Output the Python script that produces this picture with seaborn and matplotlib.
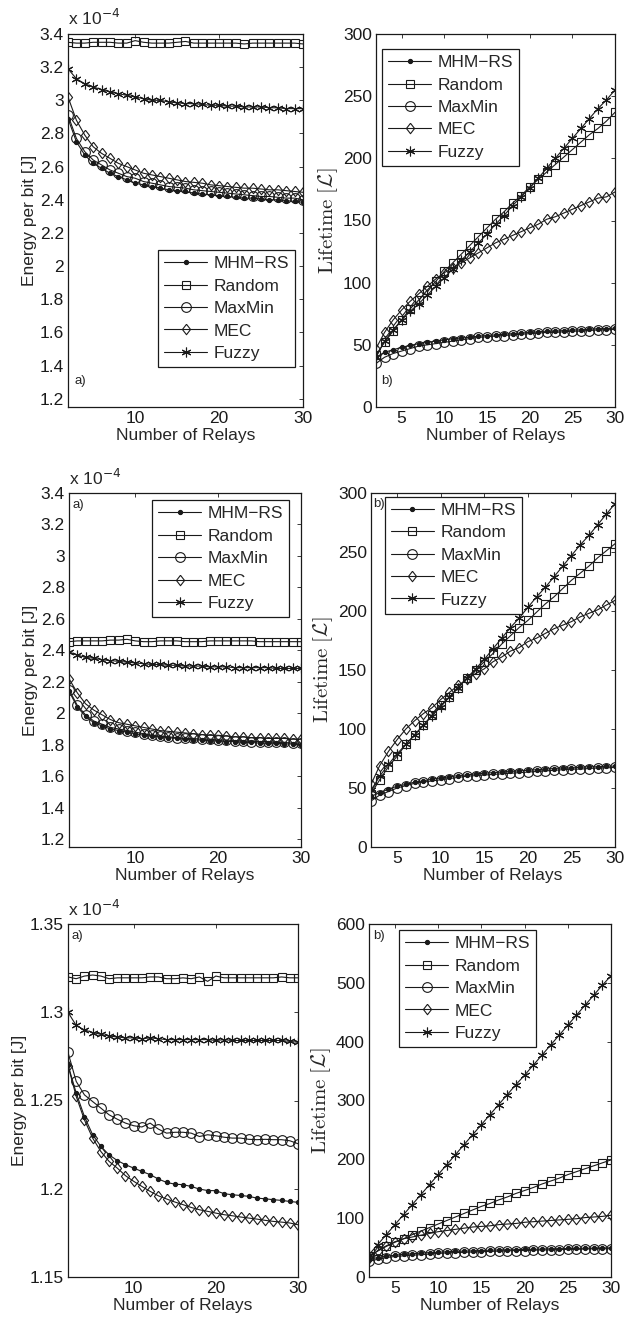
import numpy as np
import matplotlib
matplotlib.use('Agg')
import matplotlib.pyplot as plt
import seaborn as sns
from matplotlib.ticker import FuncFormatter

sns.set_theme(style='white')
plt.rcParams['font.family'] = ['Liberation Sans', 'DejaVu Sans']
plt.rcParams['mathtext.fontset'] = 'cm'

relays = list(range(2, 31))
methods = ['MHM\u2212RS', 'Random', 'MaxMin', 'MEC', 'Fuzzy']

# energy per bit (x 1e-4 J), scenario 1
e1_mhm = [2.89, 2.75, 2.67, 2.62, 2.59, 2.56, 2.54, 2.52, 2.50, 2.49, 2.48, 2.47, 2.46, 2.455, 2.45,
          2.44, 2.435, 2.43, 2.425, 2.42, 2.415, 2.41, 2.41, 2.405, 2.40, 2.40, 2.395, 2.39, 2.385]
e1_random = [3.35, 3.345, 3.345, 3.35, 3.35, 3.35, 3.345, 3.345, 3.36, 3.35, 3.345, 3.345, 3.345, 3.35, 3.355,
             3.345, 3.345, 3.345, 3.345, 3.345, 3.345, 3.34, 3.345, 3.345, 3.345, 3.345, 3.345, 3.345, 3.34]
e1_maxmin = [2.91, 2.77, 2.69, 2.64, 2.61, 2.58, 2.56, 2.54, 2.53, 2.51, 2.50, 2.49, 2.48, 2.475, 2.47,
             2.46, 2.455, 2.45, 2.445, 2.44, 2.435, 2.43, 2.425, 2.42, 2.42, 2.415, 2.41, 2.41, 2.40]
e1_mec = [3.02, 2.88, 2.79, 2.72, 2.68, 2.65, 2.62, 2.60, 2.58, 2.56, 2.55, 2.54, 2.53, 2.52, 2.51,
          2.505, 2.50, 2.49, 2.485, 2.48, 2.475, 2.47, 2.47, 2.465, 2.46, 2.46, 2.455, 2.45, 2.445]
e1_fuzzy = [3.19, 3.13, 3.10, 3.08, 3.065, 3.05, 3.04, 3.03, 3.02, 3.01, 3.00, 3.00, 2.99, 2.985, 2.98,
            2.98, 2.975, 2.97, 2.97, 2.965, 2.965, 2.96, 2.96, 2.96, 2.955, 2.955, 2.95, 2.95, 2.95]

# lifetime, scenario 1
l1_mhm = [40, 44, 46, 48, 49.5, 51, 52, 53, 54, 55, 55.5, 56, 57, 57.5, 58,
          58.5, 59, 59.5, 60, 60.5, 61, 61, 61.5, 62, 62, 62.5, 63, 63, 63.5]
l1_random = [42, 52, 61, 70, 79, 86, 94, 101, 109, 116, 123, 130, 137, 144, 151,
             157, 164, 170, 177, 183, 189, 195, 201, 207, 213, 219, 224, 230, 237]
l1_maxmin = [35, 40, 43, 45, 47, 49, 50, 51, 52, 53, 54, 55, 56, 56.5, 57,
             57.5, 58, 58.5, 59, 59.5, 60, 60, 60.5, 61, 61, 61.5, 62, 62, 62.5]
l1_mec = [47, 60, 70, 78, 85, 91, 97, 103, 108, 112, 116, 120, 124, 128, 132,
          135, 138, 141, 144, 147, 151, 153, 156, 159, 162, 165, 168, 169, 173]
l1_fuzzy = [40, 53, 62, 70, 77, 83, 90, 97, 104, 111, 118, 125, 132, 139, 147,
            154, 162, 169, 176, 184, 192, 200, 208, 216, 224, 232, 240, 247, 255]

# energy per bit, scenario 2
e2_mhm = [2.14, 2.04, 1.98, 1.94, 1.92, 1.90, 1.89, 1.88, 1.87, 1.86, 1.855, 1.85, 1.845, 1.84, 1.835,
          1.83, 1.83, 1.825, 1.825, 1.82, 1.82, 1.815, 1.815, 1.81, 1.81, 1.81, 1.805, 1.805, 1.80]
e2_random = [2.455, 2.46, 2.46, 2.46, 2.46, 2.465, 2.465, 2.47, 2.46, 2.455, 2.455, 2.46, 2.46, 2.46, 2.455,
             2.455, 2.455, 2.46, 2.46, 2.46, 2.46, 2.46, 2.46, 2.455, 2.455, 2.455, 2.455, 2.455, 2.455]
e2_maxmin = [2.15, 2.05, 1.99, 1.95, 1.93, 1.91, 1.90, 1.89, 1.88, 1.87, 1.86, 1.855, 1.85, 1.845, 1.84,
             1.84, 1.835, 1.835, 1.83, 1.83, 1.825, 1.825, 1.82, 1.82, 1.82, 1.815, 1.815, 1.81, 1.81]
e2_mec = [2.22, 2.13, 2.06, 2.02, 1.99, 1.96, 1.94, 1.93, 1.92, 1.91, 1.90, 1.89, 1.885, 1.88, 1.875,
          1.87, 1.865, 1.86, 1.86, 1.855, 1.85, 1.85, 1.845, 1.845, 1.84, 1.84, 1.84, 1.835, 1.835]
e2_fuzzy = [2.39, 2.37, 2.355, 2.35, 2.34, 2.335, 2.33, 2.325, 2.32, 2.315, 2.31, 2.31, 2.305, 2.305, 2.30,
            2.30, 2.30, 2.295, 2.295, 2.295, 2.29, 2.29, 2.29, 2.29, 2.29, 2.285, 2.285, 2.285, 2.285]

# lifetime, scenario 2
l2_mhm = [43, 46, 49, 51.5, 53, 55, 56, 57.5, 58.5, 59.5, 60.5, 61, 62, 62.5, 63,
          63.5, 64, 64.5, 65, 65.5, 66, 66.5, 67, 67, 67.5, 68, 68, 68.5, 68.5]
l2_random = [45, 57, 68, 77, 87, 95, 103, 112, 120, 127, 135, 143, 150, 157, 164,
             172, 179, 186, 192, 199, 206, 212, 219, 226, 232, 238, 245, 251, 257]
l2_maxmin = [39, 44, 47, 50, 52, 54, 55, 56, 57, 58, 59, 60, 60.5, 61, 61.5,
             62, 62.5, 63, 63.5, 64, 64.5, 65, 65.5, 66, 66, 66.5, 67, 67, 67.5]
l2_mec = [53, 69, 81, 91, 100, 107, 113, 118, 125, 131, 137, 142, 147, 151, 157,
          161, 166, 169, 174, 177, 181, 185, 188, 191, 195, 198, 201, 205, 209]
l2_fuzzy = [48, 60, 70, 79, 87, 95, 103, 111, 119, 127, 135, 143, 151, 159, 168,
            177, 186, 194, 203, 212, 220, 229, 238, 247, 256, 264, 273, 282, 291]

# energy per bit, scenario 3
e3_mhm = [1.2702, 1.2542, 1.2409, 1.2306, 1.2240, 1.2192, 1.2160, 1.2136, 1.2117, 1.2098, 1.2080, 1.2055,
          1.2036, 1.2026, 1.2023, 1.2013, 1.1998, 1.1990, 1.1989, 1.1972, 1.1966, 1.1962, 1.1957, 1.1947,
          1.1943, 1.1938, 1.1934, 1.1928, 1.1923]
e3_random = [1.3200, 1.3190, 1.3205, 1.3211, 1.3205, 1.3190, 1.3195, 1.3195, 1.3195, 1.3195, 1.3200, 1.3200,
             1.3190, 1.3190, 1.3195, 1.3190, 1.3200, 1.3175, 1.3205, 1.3195, 1.3195, 1.3195, 1.3195, 1.3195,
             1.3195, 1.3195, 1.3200, 1.3195, 1.3195]
e3_maxmin = [1.2772, 1.2608, 1.2532, 1.2494, 1.2457, 1.2419, 1.2394, 1.2372, 1.2357, 1.2350, 1.2372, 1.2338,
             1.2315, 1.2320, 1.2320, 1.2315, 1.2296, 1.2306, 1.2300, 1.2292, 1.2287, 1.2287, 1.2280, 1.2278,
             1.2280, 1.2278, 1.2278, 1.2272, 1.2255]
e3_mec = [1.2698, 1.2523, 1.2390, 1.2287, 1.2211, 1.2155, 1.2117, 1.2074, 1.2042, 1.2013, 1.1985, 1.1960,
          1.1942, 1.1925, 1.1910, 1.1894, 1.1881, 1.1872, 1.1862, 1.1853, 1.1847, 1.1840, 1.1834, 1.1828,
          1.1821, 1.1815, 1.1811, 1.1806, 1.1796]
e3_fuzzy = [1.3000, 1.2925, 1.2900, 1.2885, 1.2875, 1.2865, 1.2860, 1.2855, 1.2855, 1.2850, 1.2855, 1.2850,
            1.2845, 1.2845, 1.2845, 1.2845, 1.2845, 1.2845, 1.2840, 1.2845, 1.2840, 1.2840, 1.2840, 1.2840,
            1.2840, 1.2840, 1.2840, 1.2835, 1.2830]

# lifetime, scenario 3
l3_mhm = [30, 33, 35.5, 37, 38.5, 39.5, 40.5, 41.5, 42, 43, 43.5, 44, 44.5, 45, 45.5,
          46, 46, 46.5, 47, 47, 47.5, 48, 48, 48.5, 48.5, 49, 49, 49.5, 49.5]
l3_random = [35, 44, 52, 59, 65, 72, 78, 84, 90, 96, 102, 108, 114, 120, 125,
             131, 136, 142, 147, 152, 158, 163, 168, 174, 179, 184, 189, 194, 199]
l3_maxmin = [27, 30, 33, 35, 36, 37, 38, 39, 40, 41, 41.5, 42, 42.5, 43, 43.5,
             44, 44.5, 45, 45, 45.5, 46, 46, 46.5, 47, 47, 47.5, 48, 48, 48]
l3_mec = [32, 45, 53, 60, 65, 68, 71, 74, 77, 79, 81, 83, 85, 86, 87,
          89, 90, 91, 93, 94, 95, 96, 97, 98, 99, 101, 102, 103, 105]
l3_fuzzy = [38, 55, 72, 89, 106, 123, 140, 157, 174, 191, 208, 225, 242, 259, 276,
            293, 310, 327, 343, 360, 377, 394, 411, 428, 445, 462, 479, 496, 512]

# matlab-like diamond (a bit narrower than tall)
diamond = [(0, 1), (0.78, 0), (0, -1), (-0.78, 0), (0, 1)]

styles = {
    'MHM\u2212RS': dict(marker='o', markersize=3, markerfacecolor='k'),
    'Random': dict(marker='s', markersize=5.5, markerfacecolor='none'),
    'MaxMin': dict(marker='o', markersize=7, markerfacecolor='none'),
    'MEC': dict(marker=diamond, markersize=7.5, markerfacecolor='none'),
    'Fuzzy': dict(marker=(6, 2, 0), markersize=7, markerfacecolor='k'),
}

FS = 12.5
fig = plt.figure(figsize=(6.36, 13.2), dpi=100)

def px_axes(l, t, r, b):
    return fig.add_axes([l / 636, 1 - b / 1320, (r - l) / 636, (b - t) / 1320])

def draw(ax, series, ylim, yticks, xticks, kind, tag, tag_xy, legend_loc=None, legend_anchor=None):
    for name, ys in zip(methods, series):
        sns.lineplot(x=relays, y=ys, ax=ax, color='k', linewidth=0.8, label=name,
                     markeredgecolor='k', markeredgewidth=0.8, **styles[name])
    ax.set_xlim(2, 30)
    ax.set_ylim(*ylim)
    ax.set_yticks(yticks)
    ax.set_xticks(xticks)
    ax.yaxis.set_major_formatter(FuncFormatter(lambda v, p: '%g' % round(v, 4)))
    ax.tick_params(direction='in', length=3, width=0.6, top=True, right=True,
                   labelsize=FS, colors='k', pad=3)
    for s in ax.spines.values():
        s.set_color('k')
        s.set_linewidth(0.9)
    ax.set_xlabel('Number of Relays', fontsize=FS, labelpad=1)
    if kind == 'energy':
        ax.set_ylabel('Energy per bit [J]', fontsize=FS, labelpad=2)
        ax.text(0, 1.015, r'x 10$^{-4}$', transform=ax.transAxes, fontsize=FS,
                ha='left', va='bottom', math_fontfamily='dejavusans')
    else:
        ax.set_ylabel(r'$\mathrm{Lifetime}\ [\mathcal{L}]$', fontsize=15, labelpad=2)
    ax.text(tag_xy[0], tag_xy[1], tag, transform=ax.transAxes, fontsize=9.5, va='center', ha='left')
    if legend_loc is None:
        ax.get_legend().remove()
    else:
        leg = ax.legend(loc=legend_loc, bbox_to_anchor=legend_anchor, fontsize=FS, frameon=True,
                        fancybox=False, framealpha=1, edgecolor='k', borderaxespad=0,
                        handlelength=2.5, handletextpad=0.35, labelspacing=0.42, borderpad=0.35)
        leg.get_frame().set_linewidth(0.9)

ax1 = px_axes(68, 34, 303, 407)
draw(ax1, [e1_mhm, e1_random, e1_maxmin, e1_mec, e1_fuzzy], (1.15, 3.4),
     [1.2, 1.4, 1.6, 1.8, 2.0, 2.2, 2.4, 2.6, 2.8, 3.0, 3.2, 3.4], [10, 20, 30],
     'energy', 'a)', (0.026, 0.071), 'lower right', (0.966, 0.107))

ax2 = px_axes(376, 34, 615, 407)
draw(ax2, [l1_mhm, l1_random, l1_maxmin, l1_mec, l1_fuzzy], (0, 300),
     [0, 50, 100, 150, 200, 250, 300], [5, 10, 15, 20, 25, 30],
     'life', 'b)', (0.02, 0.07), 'upper left', (0.025, 0.96))

ax3 = px_axes(69, 493, 301, 847)
draw(ax3, [e2_mhm, e2_random, e2_maxmin, e2_mec, e2_fuzzy], (1.15, 3.4),
     [1.2, 1.4, 1.6, 1.8, 2.0, 2.2, 2.4, 2.6, 2.8, 3.0, 3.2, 3.4], [10, 20, 30],
     'energy', 'a)', (0.016, 0.966), 'upper right', (0.948, 0.98))

ax4 = px_axes(371, 493, 615, 847)
draw(ax4, [l2_mhm, l2_random, l2_maxmin, l2_mec, l2_fuzzy], (0, 300),
     [0, 50, 100, 150, 200, 250, 300], [5, 10, 15, 20, 25, 30],
     'life', 'b)', (0.008, 0.97), 'upper left', (0.056, 0.99))

ax5 = px_axes(68, 924, 298, 1277)
draw(ax5, [e3_mhm, e3_random, e3_maxmin, e3_mec, e3_fuzzy], (1.15, 1.35),
     [1.15, 1.2, 1.25, 1.3, 1.35], [10, 20, 30],
     'energy', 'a)', (0.016, 0.966))

ax6 = px_axes(369, 924, 611, 1277)
draw(ax6, [l3_mhm, l3_random, l3_maxmin, l3_mec, l3_fuzzy], (0, 600),
     [0, 100, 200, 300, 400, 500, 600], [5, 10, 15, 20, 25, 30],
     'life', 'b)', (0.017, 0.966), 'upper left', (0.124, 0.983))

fig.savefig('out.png', dpi=100, facecolor='white')
